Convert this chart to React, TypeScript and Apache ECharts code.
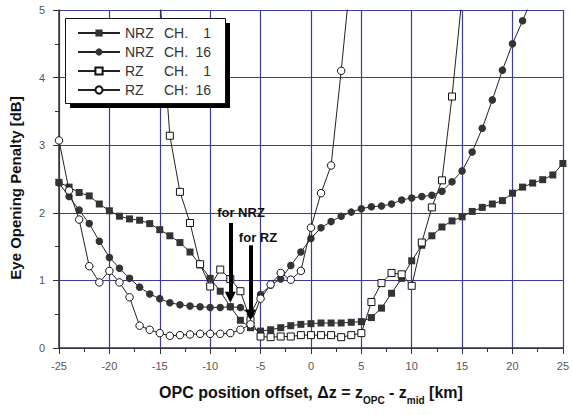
import React, { useEffect, useRef } from "react";
import * as echarts from "echarts";

// ---- data ----
const nrz1X = [-25,-24,-23,-22,-21,-20,-19,-18,-17,-16,-15,-14,-13,-12,-11,-10,-9,-8,-7,-6,-5,-4,-3,-2,-1,0,1,2,3,4,5,6,7,8,9,10,11,12,13,14,15,16,17,18,19,20,21,22,23,24,25];
const nrz1Y = [2.45,2.38,2.30,2.25,2.13,2.03,1.95,1.91,1.89,1.84,1.75,1.66,1.56,1.42,1.23,1.03,0.84,0.61,0.41,0.30,0.25,0.27,0.30,0.33,0.35,0.36,0.37,0.37,0.37,0.38,0.39,0.45,0.59,0.81,1.03,1.29,1.52,1.66,1.79,1.88,1.94,2.02,2.08,2.13,2.18,2.29,2.38,2.44,2.49,2.56,2.73];

const nrz16X = [-25,-24,-23,-22,-21,-20,-19,-18,-17,-16,-15,-14,-13,-12,-11,-10,-9,-8,-7,-6,-5,-4,-3,-2,-1,0,1,2,3,4,5,6,7,8,9,10,11,12,13,14,15,16,17,18,19,20,21,22];
const nrz16Y = [2.44,2.24,2.04,1.84,1.58,1.34,1.18,1.03,0.90,0.80,0.73,0.67,0.64,0.62,0.61,0.60,0.60,0.61,0.60,0.50,0.79,0.93,1.02,1.22,1.42,1.62,1.78,1.87,1.95,2.01,2.06,2.09,2.10,2.13,2.19,2.22,2.24,2.26,2.32,2.46,2.62,2.90,3.25,3.67,4.11,4.50,4.84,5.2];

const rz1X = [-15,-14,-13,-12,-11,-10,-9,-8,-7,-6,-5,-4,-3,-2,-1,0,1,2,3,4,5,6,7,8,9,10,11,12,13,14,15];
const rz1Y = [5.2,3.14,2.31,1.85,1.24,0.91,1.16,1.02,0.84,0.41,0.17,0.16,0.17,0.17,0.19,0.19,0.19,0.19,0.16,0.19,0.22,0.68,0.96,1.11,1.09,0.92,1.56,2.08,2.48,3.72,5.2];

const rz16X = [-25,-24,-23,-22,-21,-20,-19,-18,-17,-16,-15,-14,-13,-12,-11,-10,-9,-8,-7,-6,-5,-4,-3,-2,-1,0,1,2,3,4];
const rz16Y = [3.07,2.33,1.90,1.21,0.97,1.14,0.97,0.75,0.33,0.27,0.22,0.18,0.19,0.20,0.21,0.21,0.21,0.22,0.27,0.35,0.73,0.94,1.11,1.01,1.14,1.78,2.29,2.70,4.10,5.6];

const legendLabels = [
  ["NRZ", "CH.", "1"],
  ["NRZ", "CH.", "16"],
  ["RZ", "CH.", "1"],
  ["RZ", "CH:", "16"],
];
const seriesNames = legendLabels.map((p) => p.join(" "));

const xTicks = { min: -25, max: 25, step: 5 };
const yTicks = { min: 0, max: 5, step: 1 };

// arrows: [x, yTop, yEnd]
const arrowNRZ = [-8, 1.85, 0.75];
const arrowRZ = [-6, 1.52, 0.49];

const zip = (xs: number[], ys: number[]) => xs.map((x, i) => [x, ys[i]]);

const FONT = "Liberation Sans, Arial, sans-serif";
const GRID_COLOR = "#3c3c96";

export default function App() {
  const ref = useRef<HTMLDivElement>(null);
  useEffect(() => {
    if (!ref.current) return;
    const chart = echarts.init(ref.current, undefined, { renderer: "svg" });
    const axisCommon = {
      type: "value" as const,
      axisLine: { show: true, onZero: false, lineStyle: { color: "#333", width: 1.5 } },
      axisTick: { show: true, length: 6, lineStyle: { color: "#333", width: 1 } },
      minorTick: { show: true, splitNumber: 2, length: 4, lineStyle: { color: "#333", width: 1 } },
      splitLine: { show: true, lineStyle: { color: GRID_COLOR, width: 1.2 } },
    };
    const lineStyle = { color: "#222", width: 1 };
    const filled = { color: "#333", borderWidth: 0 };
    const open = { color: "#fff", borderColor: "#111", borderWidth: 1 };
    const arrowLine = (a: number[]) => [
      { coord: [a[0], a[1]], symbol: "none" },
      { coord: [a[0], a[2]], symbol: "triangle" },
    ];

    chart.setOption({
      animation: false,
      backgroundColor: "#fff",
      textStyle: { fontFamily: FONT },
      grid: { left: 53, right: 9, top: 10, bottom: 67, containLabel: false },
      xAxis: {
        ...axisCommon,
        min: xTicks.min,
        max: xTicks.max,
        interval: xTicks.step,
        axisLabel: { margin: 12, color: "#555", fontSize: 11, fontFamily: FONT },
        name: "{m|OPC position offset, Δz = z}{s|OPC}{m| - z}{s|mid}{m| [km]}",
        nameLocation: "middle",
        nameGap: 31,
        nameTextStyle: {
          rich: {
            m: { fontSize: 16, fontWeight: "bold", color: "#111", fontFamily: FONT, lineHeight: 26, verticalAlign: "middle" },
            s: { fontSize: 10, fontWeight: "bold", color: "#111", fontFamily: FONT, lineHeight: 26, verticalAlign: "bottom" },
          },
        },
      },
      yAxis: {
        ...axisCommon,
        min: yTicks.min,
        max: yTicks.max,
        interval: yTicks.step,
        axisLabel: { margin: 14, color: "#555", fontSize: 11, fontFamily: FONT },
        name: "Eye Opening Penalty [dB]",
        nameLocation: "middle",
        nameGap: 36,
        nameRotate: 90,
        nameTextStyle: { fontSize: 15, fontWeight: "bold", color: "#111", fontFamily: FONT, padding: [0, 18, 0, 0] },
      },
      legend: {
        left: 65,
        top: 18,
        orient: "vertical",
        z: 10,
        itemWidth: 42,
        itemHeight: 9,
        itemGap: 5,
        padding: [8, 15, 6, 12],
        backgroundColor: "transparent",
        borderWidth: 0,
        data: seriesNames,
        formatter: (name: string) => {
          const p = legendLabels[seriesNames.indexOf(name)];
          return `{a|${p[0]}}{b|${p[1]}}{c|${p[2]}}`;
        },
        textStyle: {
          fontFamily: FONT,
          fontSize: 14,
          color: "#333",
          lineHeight: 14,
          rich: {
            a: { width: 39, fontSize: 14, color: "#333", lineHeight: 14 },
            b: { width: 24, fontSize: 14, color: "#333", lineHeight: 14 },
            c: { width: 23, align: "right", fontSize: 14, color: "#333", lineHeight: 14 },
          },
        },
      },
      graphic: {
        elements: [
          {
            type: "group",
            z: 9,
            silent: true,
            children: [
              {
                type: "rect",
                z: 9,
                left: 70,
                top: 23,
                shape: { width: 160, height: 85 },
                style: { fill: "#000" },
              },
              {
                type: "rect",
                z: 9,
                left: 65,
                top: 18,
                shape: { width: 160, height: 85 },
                style: { fill: "#fff", stroke: "#111", lineWidth: 1 },
              },
            ],
          },
          {
            type: "text",
            z: 12,
            x: 241,
            y: 212,
            style: { text: "for NRZ", font: `bold 13px ${FONT}`, fill: "#111", align: "center", verticalAlign: "middle" },
          },
          {
            type: "text",
            z: 12,
            x: 258,
            y: 237,
            style: { text: "for RZ", font: `bold 13px ${FONT}`, fill: "#111", align: "center", verticalAlign: "middle" },
          },
        ],
      },
      series: [
        {
          name: seriesNames[0],
          type: "line",
          data: zip(nrz1X, nrz1Y),
          symbol: "rect",
          symbolSize: 7,
          lineStyle,
          itemStyle: filled,
          z: 3,
        },
        {
          name: seriesNames[1],
          type: "line",
          data: zip(nrz16X, nrz16Y),
          symbol: "circle",
          symbolSize: 7.5,
          lineStyle,
          itemStyle: filled,
          z: 3,
          markLine: {
            silent: true,
            symbolSize: 11,
            label: { show: false },
            lineStyle: { color: "#000", width: 4, type: "solid" },
            itemStyle: { color: "#000" },
            data: [arrowLine(arrowNRZ), arrowLine(arrowRZ)],
            z: 8,
          },
        },
        {
          name: seriesNames[2],
          type: "line",
          data: zip(rz1X, rz1Y),
          symbol: "rect",
          symbolSize: 7,
          lineStyle,
          itemStyle: open,
          z: 4,
        },
        {
          name: seriesNames[3],
          type: "line",
          data: zip(rz16X, rz16Y),
          symbol: "circle",
          symbolSize: 7.5,
          lineStyle,
          itemStyle: open,
          z: 4,
        },
      ],
    });
    return () => chart.dispose();
  }, []);
  return (
    <div
      ref={ref}
      style={{ position: "fixed", left: 0, top: 0, width: 572, height: 415, background: "#fff" }}
    />
  );
}
